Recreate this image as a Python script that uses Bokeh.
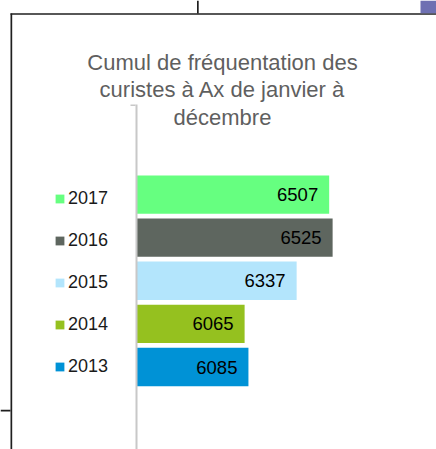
from bokeh.plotting import figure
from bokeh.models import (ColumnDataSource, Range1d, LabelSet, Label,
                          BoxAnnotation, FixedTicker)
from bokeh.core.properties import value
from bokeh.embed import file_html
from bokeh.resources import INLINE

# ---- data ----
years = ["2017", "2016", "2015", "2014", "2013"]
visits = [6507, 6525, 6337, 6065, 6085]
colors = ["#66FF80", "#5E665F", "#B3E5FC", "#95C11F", "#0092D6"]
title_lines = ["Cumul de fréquentation des",
               "curistes à Ax de janvier à",
               "décembre"]
x_start = 5500          # value axis starts here (bars grow from it)

positions = [len(years) - 1 - i for i in range(len(years))]
src = ColumnDataSource(dict(
    year=years, visits=visits, color=colors, pos=positions,
    text=[str(v) for v in visits],
))

# view extents (layout)
x_lo, x_hi = 4789, 7068
y_lo, y_hi = -1.914, 8.503
axis_top = 6.09
FONT = "Liberation Sans"

p = figure(width=436, height=449, output_backend="svg", toolbar_location=None,
           x_range=Range1d(x_lo, x_hi), y_range=Range1d(y_lo, y_hi),
           y_axis_location="right",
           min_border_left=0, min_border_right=0, min_border_top=0,
           min_border_bottom=0)
p.outline_line_color = None
p.grid.visible = False
p.xaxis.visible = False
p.title.visible = False

ya = p.yaxis[0]
ya.fixed_location = x_start
ya.bounds = (y_lo, axis_top)
ya.ticker = FixedTicker(ticks=[])
ya.major_tick_out = 0
ya.major_tick_in = 0
ya.minor_tick_out = 0
ya.minor_tick_in = 0
ya.major_label_standoff = 0
ya.axis_line_color = "#c8c8c8"
ya.axis_line_width = 2

r = p.hbar(y="pos", left=x_start, right="visits", height=0.89, color="color",
           line_color=None, source=src, legend_field="year")

labels = LabelSet(x="visits", y="pos", text="text", source=src,
                  text_align="right", text_baseline="middle", x_offset=-11,
                  text_font=value(FONT), text_font_size="18.5px", text_color="#000000")
p.add_layout(labels)

leg = p.legend[0]
leg.location = (54, 71)
leg.padding = 0
leg.margin = 0
leg.spacing = 18
leg.label_height = 24
leg.glyph_width = 11
leg.glyph_height = 11
leg.label_standoff = 3
leg.label_text_font = FONT
leg.label_text_font_size = "18px"
leg.label_text_color = "#1a1a1a"
leg.background_fill_alpha = 0
leg.border_line_color = None

baselines = [387.5, 360, 332.5]
for txt, yb in zip(title_lines, baselines):
    p.add_layout(Label(x=222, y=yb, x_units="screen", y_units="screen", text=txt,
                       text_align="center", text_baseline="alphabetic",
                       text_font=FONT, text_font_size="22px", text_color="#5f5f5f"))

# slide frame lines / background pieces around the chart (screen units)
def box(l, r_, b, t, c):
    p.add_layout(BoxAnnotation(left=l, right=r_, bottom=b, top=t,
                               left_units="screen", right_units="screen",
                               bottom_units="screen", top_units="screen",
                               fill_color=c, fill_alpha=1, line_color=None))

box(10, 11.7, 0, 436, "#1f1f1f")
box(10, 436, 434.7, 436.3, "#1f1f1f")
box(196.5, 198.2, 436, 449, "#1f1f1f")
box(0, 10, 38, 39.7, "#1f1f1f")
box(420, 436, 436.3, 449, "#6e70b2")
box(130, 135, 343.5, 345, "#c8c8c8")   # small top tick of the category axis

open("out.html", "w").write(file_html(p, INLINE))
